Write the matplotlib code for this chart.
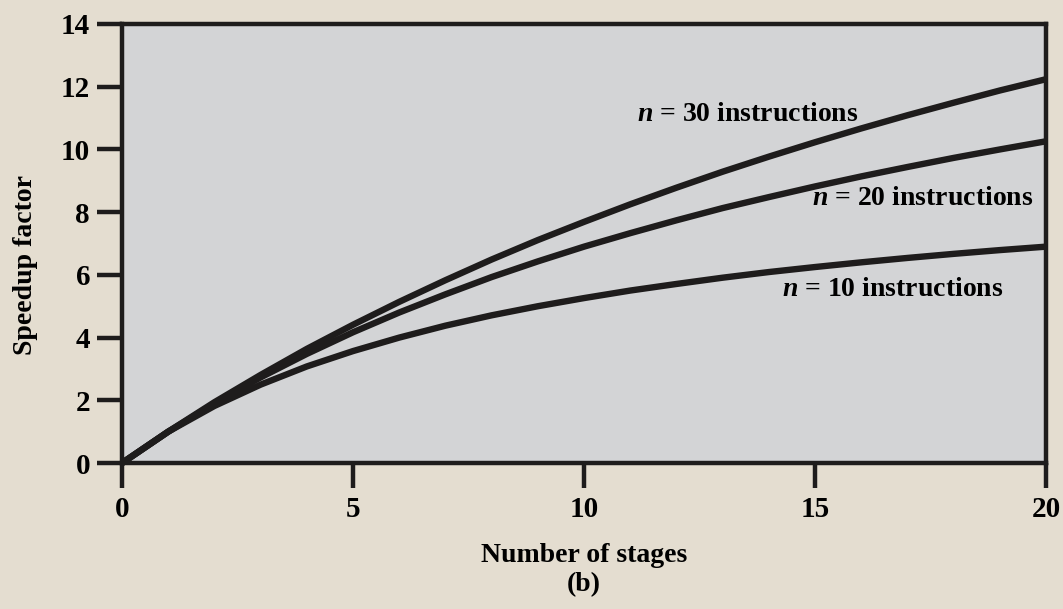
import numpy as np
import matplotlib.pyplot as plt

# values, stages 0..20
stages = list(range(0, 21))
speedup_n10 = [0, 1.0, 1.82, 2.5, 3.08, 3.57, 4.0, 4.38, 4.71, 5.0, 5.26,
               5.5, 5.71, 5.91, 6.09, 6.25, 6.4, 6.54, 6.67, 6.79, 6.9]
speedup_n20 = [0, 1.0, 1.9, 2.73, 3.48, 4.17, 4.8, 5.38, 5.93, 6.43, 6.9,
               7.33, 7.74, 8.13, 8.48, 8.82, 9.14, 9.44, 9.73, 10.0, 10.26]
speedup_n30 = [0, 1.0, 1.94, 2.81, 3.64, 4.41, 5.14, 5.83, 6.49, 7.11, 7.69,
               8.25, 8.78, 9.29, 9.77, 10.23, 10.67, 11.09, 11.49, 11.88, 12.24]

x_ticks = [0, 5, 10, 15, 20]
y_ticks = [0, 2, 4, 6, 8, 10, 12, 14]

plt.rcParams['font.family'] = ['Liberation Serif', 'DejaVu Serif']
plt.rcParams['font.weight'] = 'bold'
plt.rcParams['mathtext.fontset'] = 'custom'
plt.rcParams['mathtext.rm'] = 'Liberation Serif:bold'
plt.rcParams['mathtext.it'] = 'Liberation Serif:italic:bold'

fig = plt.figure(figsize=(10.63, 6.09), dpi=100)
fig.patch.set_facecolor('#e4ddd0')
ax = fig.add_axes([0.1148, 0.2397, 0.8693, 0.7209])
ax.set_facecolor('#d3d4d6')

for s in [speedup_n10, speedup_n20, speedup_n30]:
    ax.plot(stages, s, color='#1e1c1c', lw=4.6, solid_capstyle='butt',
            clip_on=False, zorder=3)

ax.set_xlim(0, 20)
ax.set_ylim(0, 14)
ax.set_xticks(x_ticks)
ax.set_yticks(y_ticks)
ax.tick_params(direction='out', length=18, width=3.2, color='#1e1c1c',
               labelsize=21, pad=5)
ax.tick_params(axis='x', pad=6)
for sp in ax.spines.values():
    sp.set_linewidth(3.2)
    sp.set_color('#1e1c1c')
for lab in ax.get_xticklabels() + ax.get_yticklabels():
    lab.set_fontweight('bold')

ax.set_ylabel('Speedup factor', fontsize=20, fontweight='bold')
ax.yaxis.set_label_coords(-0.091, 0.451)
ax.set_xlabel('Number of stages\n(b)', fontsize=20, fontweight='bold',
              labelpad=14, linespacing=1.25)

ax.text(13.55, 11.1, r'$n$ = 30 instructions', fontsize=20,
        fontweight='bold', ha='center', va='center')
ax.text(17.34, 8.45, r'$n$ = 20 instructions', fontsize=20,
        fontweight='bold', ha='center', va='center')
ax.text(16.67, 5.52, r'$n$ = 10 instructions', fontsize=20,
        fontweight='bold', ha='center', va='center')

fig.savefig('out.png', dpi=100, facecolor=fig.get_facecolor())
